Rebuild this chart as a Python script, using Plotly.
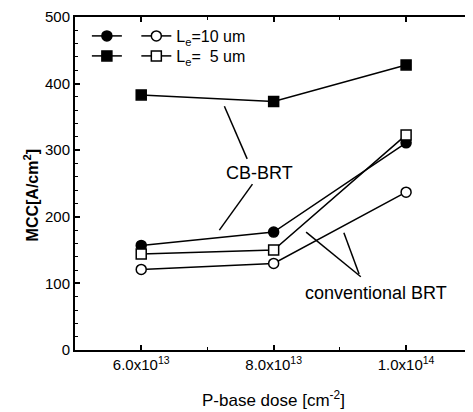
import plotly.graph_objects as go

dose = [6.0e13, 8.0e13, 1.0e14]
tick_vals = [6.0e13, 8.0e13, 1.0e14]
tick_text = ["6.0x10<sup>13</sup>", "8.0x10<sup>13</sup>", "1.0x10<sup>14</sup>"]

le10_cb = [157, 177, 311]      # filled circle
le10_conv = [121, 130, 237]    # open circle
le5_cb = [383, 373, 428]       # filled square
le5_conv = [144, 150, 323]     # open square

FONT = "Liberation Sans, Arial, sans-serif"
LW = 1.5

fig = go.Figure()

def add(y, symbol, fill, name, legend):
    fig.add_trace(go.Scatter(
        x=dose, y=y, mode="lines+markers", name=name,
        line=dict(color="black", width=LW),
        marker=dict(symbol=symbol, size=10, color=fill,
                    line=dict(color="black", width=1.5)),
        legend=legend, showlegend=True))

add(le10_cb, "circle", "black", " ", "legend")
add(le10_conv, "circle", "white", "L<sub>e</sub>=10 um", "legend")
add(le5_cb, "square", "black", " ", "legend2")
add(le5_conv, "square", "white", "L<sub>e</sub>=  5 um", "legend2")

# pointer lines (in data units)
pointers = [
    ((7.60e13, 287), (7.256e13, 366)),
    ((7.68e13, 249), (7.18e13, 180)),
    ((9.316e13, 110), (8.49e13, 177)),
    ((9.29e13, 114), (9.06e13, 176)),
]
for (x0, y0), (x1, y1) in pointers:
    fig.add_shape(type="line", xref="x", yref="y", x0=x0, y0=y0, x1=x1, y1=y1,
                  line=dict(color="black", width=LW))

fig.add_annotation(x=7.78e13, y=266, text="CB-BRT", showarrow=False,
                   font=dict(family=FONT, size=18, color="black"))
fig.add_annotation(x=9.54e13, y=86, text="conventional BRT", showarrow=False,
                   font=dict(family=FONT, size=18, color="black"))

fig.add_annotation(xref="paper", yref="paper", x=-0.1407, y=0.465, textangle=-90,
                   text="<b>MCC[A/cm<sup>2</sup>]</b>", showarrow=False,
                   font=dict(family=FONT, size=16, color="black"))
fig.add_annotation(xref="paper", yref="paper", x=0.5, y=-0.147, yanchor="middle",
                   text="P-base dose [cm<sup>-2</sup>]", showarrow=False,
                   font=dict(family=FONT, size=17, color="black"))

axis_common = dict(showgrid=False, zeroline=False, showline=True, linecolor="black",
                   linewidth=2, mirror="ticks", ticks="inside", tickcolor="black",
                   ticklen=5, tickwidth=1.5,
                   tickfont=dict(family=FONT, size=15, color="black"))

fig.update_xaxes(range=[5.0e13, 1.098e14], tickvals=tick_vals, ticktext=tick_text,
                 minor=dict(dtick=1e13, tick0=0, ticks="inside", ticklen=3,
                            tickcolor="black", tickwidth=1),
                 **axis_common)
fig.update_yaxes(range=[0, 500], dtick=100,
                 minor=dict(dtick=20, ticks="inside", ticklen=3, tickcolor="black", tickwidth=1),
                 **axis_common)

leg_common = dict(orientation="h", xref="paper", yref="paper", xanchor="left", yanchor="middle",
                  bgcolor="rgba(0,0,0,0)",
                  font=dict(family=FONT, size=16, color="black"),
                  itemclick=False, itemdoubleclick=False, tracegroupgap=0)

# The page body adds an 8px offset; size the figure so the plot area
# lands at x 75..473, y 17..350 in the 473x412 window.
fig.update_layout(
    width=465, height=404,
    margin=dict(l=67, r=0, t=9, b=62),
    plot_bgcolor="white", paper_bgcolor="white",
    font=dict(family=FONT, color="black"),
    legend=dict(x=0.03, y=(350 - 36) / 333, **leg_common),
    legend2=dict(x=0.03, y=(350 - 56) / 333, **leg_common),
)

fig.write_html("out.html")
